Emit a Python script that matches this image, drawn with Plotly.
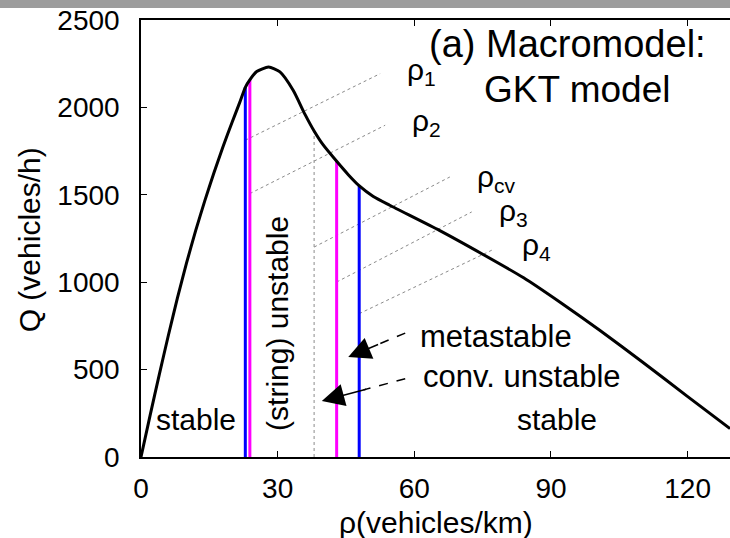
import numpy as np
import plotly.graph_objects as go

# ---------------- data ----------------
rho = [0, 2, 4, 6, 8, 10, 12, 14, 16, 18, 20, 21.7, 22.9, 24, 25.4, 28, 30.5, 33.4, 36, 38,
       40, 43, 45.5, 48, 51, 54.6, 65.6, 75, 84, 92, 100.7, 110, 119.8, 129.3]
Q = [0, 238, 470, 695, 910, 1110, 1295, 1465, 1625, 1775, 1915, 2030, 2115, 2162, 2205, 2231,
     2203, 2098, 1960, 1865, 1785, 1690, 1615, 1549, 1490, 1440, 1295, 1160, 1025, 885, 725,
     545, 350, 162]

# critical densities (vertical markers) and their flow on the curve
crit_names = ["rho1", "rho2", "rhocv", "rho3", "rho4"]
crit_rho = [22.9, 23.9, 38.0, 42.95, 47.9]
crit_Q = [2115, 2158, 1865, 1690, 1552]
crit_kind = ["blue", "magenta", "dotted", "magenta", "blue"]

# slanted guide lines: start Q on the vertical, end point
guide_start_Q = [1812, 1507, 1201, 1001, 820]
guide_end_rho = [52.5, 53.6, 67.8, 72.6, 77.0]
guide_end_Q = [2193, 1898, 1602, 1402, 1183]
guide_labels = ["ρ<sub>1</sub>", "ρ<sub>2</sub>", "ρ<sub>cv</sub>", "ρ<sub>3</sub>", "ρ<sub>4</sub>"]

x_ticks = [0, 30, 60, 90, 120]
y_ticks = [0, 500, 1000, 1500, 2000, 2500]

FONT = "Liberation Sans, Arial, sans-serif"

fig = go.Figure()

# slanted dotted guides
for r0, q0, r1, q1 in zip(crit_rho, guide_start_Q, guide_end_rho, guide_end_Q):
    fig.add_trace(go.Scatter(x=[r0, r1], y=[q0, q1], mode="lines",
                             line=dict(color="#8a8a8a", width=1, dash="dot"),
                             hoverinfo="skip", showlegend=False))

# vertical markers
colors = {"blue": "#0000ff", "magenta": "#ff00ff"}
for r, q, k in zip(crit_rho, crit_Q, crit_kind):
    if k == "dotted":
        fig.add_trace(go.Scatter(x=[r, r], y=[0, q], mode="lines",
                                 line=dict(color="#8a8a8a", width=1, dash="dot"),
                                 hoverinfo="skip", showlegend=False))
    else:
        fig.add_trace(go.Scatter(x=[r, r], y=[0, q], mode="lines",
                                 line=dict(color=colors[k], width=3),
                                 hoverinfo="skip", showlegend=False))

# fundamental diagram
fig.add_trace(go.Scatter(x=rho, y=Q, mode="lines",
                         line=dict(color="black", width=3, shape="spline", smoothing=0.6),
                         hoverinfo="skip", showlegend=False))

# arrows (dashed shaft + solid head)
arrows = [((58.0, 709), (45.5, 572)), ((58.0, 448), (39.7, 320))]
for (tx, ty), (hx, hy) in arrows:
    fig.add_trace(go.Scatter(x=[tx, hx + 0.5 * (tx - hx)], y=[ty, hy + 0.5 * (ty - hy)],
                             mode="lines", line=dict(color="black", width=1.5, dash="dash"),
                             hoverinfo="skip", showlegend=False))
    fig.add_annotation(x=hx, y=hy, ax=hx + 0.55 * (tx - hx), ay=hy + 0.55 * (ty - hy),
                       xref="x", yref="y", axref="x", ayref="y", text="",
                       showarrow=True, arrowhead=2, arrowsize=3, arrowwidth=1.5,
                       arrowcolor="black")

# guide labels
label_pos = [(57.9, 2205), (59.0, 1915), (73.3, 1595), (78.1, 1400), (83.2, 1205)]
for (x, y), t in zip(label_pos, guide_labels):
    fig.add_annotation(x=x, y=y, text=t, showarrow=False, xanchor="left", yanchor="middle",
                       font=dict(family=FONT, size=30, color="black"))

texts = [
    ("(a) Macromodel:", 93.6, 2365, 0, 38),
    ("GKT model", 95.8, 2105, 0, 37),
    ("stable", 12.0, 212, 0, 30),
    ("stable", 91.4, 214, 0, 30),
    ("metastable", 78.0, 690, 0, 31),
    ("conv. unstable", 83.6, 460, 0, 31),
    ("(string) unstable", 30.0, 765, -90, 30),
]
for t, x, y, ang, sz in texts:
    fig.add_annotation(x=x, y=y, text=t, showarrow=False, textangle=ang,
                       xanchor="center", yanchor="middle",
                       font=dict(family=FONT, size=sz, color="black"))

# axis titles as paper annotations
L, T, B, R = 141, 20, 81, 0
W, H = 730, 538
pw, ph = W - L - R, H - T - B
fig.add_annotation(x=(29 - L) / pw, y=(456.7 - 240) / ph, xref="paper", yref="paper",
                   text="Q (vehicles/h)", textangle=-90, showarrow=False,
                   xanchor="center", yanchor="middle",
                   font=dict(family=FONT, size=30, color="black"))
fig.add_annotation(x=(436 - L) / pw, y=(456.7 - 522) / ph, xref="paper", yref="paper",
                   text="ρ(vehicles/km)", showarrow=False,
                   xanchor="center", yanchor="middle",
                   font=dict(family=FONT, size=30, color="black"))

# grey band at top of the page
fig.add_shape(type="rect", xref="paper", yref="paper",
              x0=-L / pw, x1=1.0, y0=(ph + T - 8) / ph, y1=(ph + T) / ph,
              fillcolor="#9c9c9c", line=dict(width=0), layer="above")

fig.update_layout(
    width=W, height=H, margin=dict(l=L, r=R, t=T, b=B),
    paper_bgcolor="white", plot_bgcolor="white",
    font=dict(family=FONT, size=28, color="black"),
    xaxis=dict(range=[0, 129.3], tickvals=x_ticks, ticktext=[str(v) for v in x_ticks],
               showgrid=False, zeroline=False, showline=True, linecolor="black", linewidth=1.5,
               mirror="ticks", ticks="inside", ticklen=6, tickcolor="black", tickwidth=1,
               tickfont=dict(size=28), ticklabelstandoff=6),
    yaxis=dict(range=[0, 2500], tickvals=y_ticks, ticktext=[str(v) for v in y_ticks],
               showgrid=False, zeroline=False, showline=True, linecolor="black", linewidth=1.5,
               ticks="inside", ticklen=6, tickcolor="black", tickwidth=1,
               tickfont=dict(size=28), ticklabelstandoff=14),
)

fig.write_html("out.html")
